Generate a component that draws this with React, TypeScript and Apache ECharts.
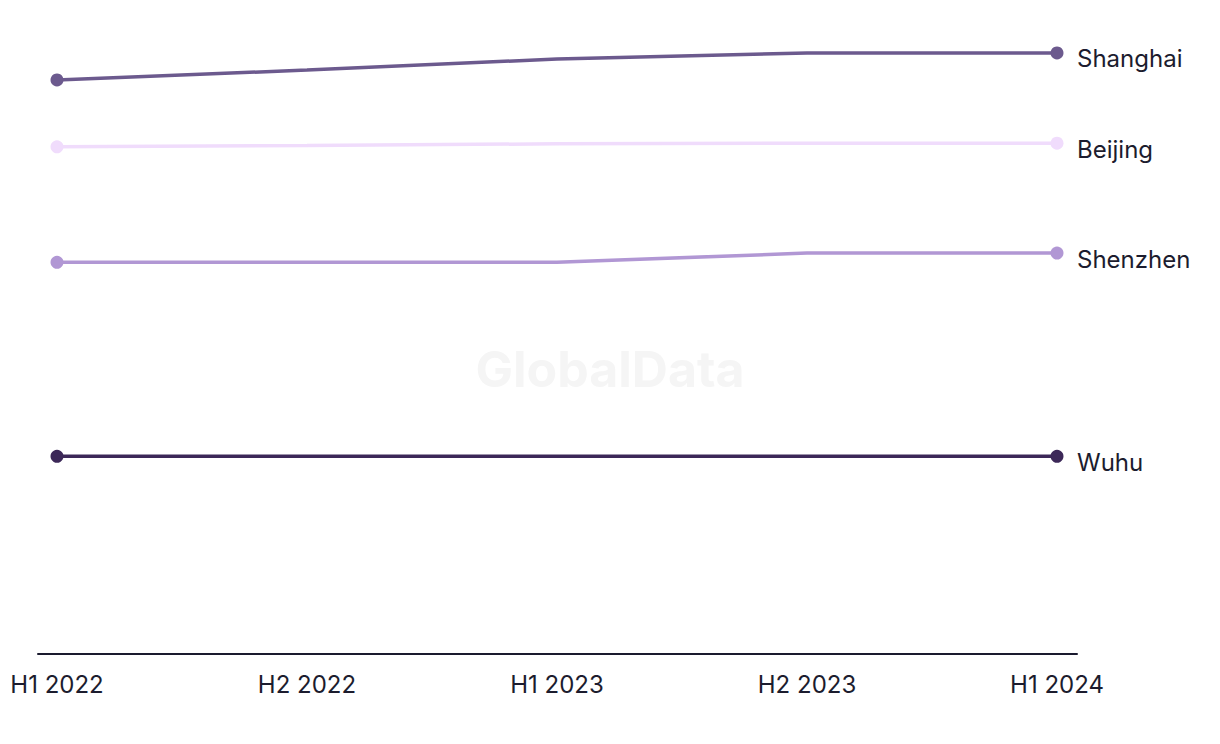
import React, { useEffect, useRef } from "react";
import * as echarts from "echarts";

const categories = ["H1 2022", "H2 2022", "H1 2023", "H2 2023", "H1 2024"];
const seriesNames = ["Shanghai", "Beijing", "Shenzhen", "Wuhu"];
const shanghai = [93.5, 95.1, 96.9, 97.9, 97.9];
const beijing = [82.6, 82.8, 83.1, 83.2, 83.2];
const shenzhen = [63.8, 63.8, 63.8, 65.3, 65.3];
const wuhu = [32.2, 32.2, 32.2, 32.2, 32.2];
const colors = ["#6c5a8e", "#f0dcfc", "#b197d4", "#3c2858"];

const FONT = "Inter, 'Liberation Sans', sans-serif";
const TEXT = "#1c1c2e";

export default function App() {
  const ref = useRef<HTMLDivElement>(null);
  useEffect(() => {
    if (!ref.current) return;
    const chart = echarts.init(ref.current, undefined, { renderer: "svg" });
    const all = [shanghai, beijing, shenzhen, wuhu];
    chart.setOption({
      animation: false,
      graphic: [
        {
          type: "text",
          left: "center",
          top: 344,
          z: 0,
          style: {
            text: "GlobalData",
            fill: "#f5f5f5",
            font: `bold 50px ${FONT}`,
          },
        },
      ],
      grid: { left: 38, right: 143, top: 40, bottom: 90 },
      xAxis: {
        type: "value",
        min: -0.076,
        max: 4.08,
        splitLine: { show: false },
        axisLine: { show: true, onZero: false, lineStyle: { color: "#1a1a2e", width: 2 } },
        axisTick: { show: false },
        axisLabel: {
          customValues: [0, 1, 2, 3, 4],
          formatter: (v: number) => categories[Math.round(v)] ?? "",
          color: TEXT,
          fontSize: 24,
          fontFamily: FONT,
          margin: 18,
        },
      },
      yAxis: {
        type: "value",
        min: 0,
        max: 100,
        show: false,
        splitLine: { show: false },
      },
      series: all.map((data, i) => ({
        type: "line",
        name: seriesNames[i],
        data: data.map((v, j) => ({
          value: [j, v],
          symbolSize: j === 0 || j === data.length - 1 ? 13 : 0,
        })),
        symbol: "circle",
        lineStyle: { color: colors[i], width: 3.5 },
        itemStyle: { color: colors[i] },
        z: 3,
        endLabel: {
          show: true,
          formatter: seriesNames[i],
          color: TEXT,
          fontSize: 24,
          fontFamily: FONT,
          distance: 20,
          offset: [0, 6],
        },
      })),
    });
    return () => chart.dispose();
  }, []);
  return <div ref={ref} style={{ width: 1220, height: 744, position: "absolute", left: 0, top: 0 }} />;
}
